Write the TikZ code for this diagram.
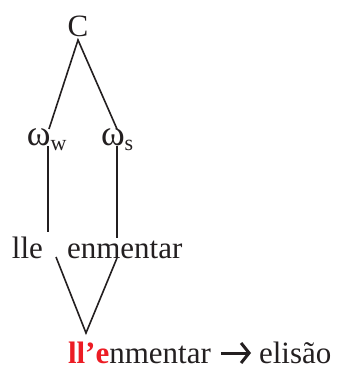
\documentclass[tikz,border=0pt]{standalone}
\usepackage{fontspec}
\setmainfont{Liberation Serif}
\usetikzlibrary{arrows.meta}
\definecolor{ink}{RGB}{35,31,32}
\definecolor{redtxt}{RGB}{236,28,36}
\begin{document}
\begin{tikzpicture}[x=1pt,y=-1pt,
  lbl/.style={inner sep=0pt,outer sep=0pt,text=ink,font=\fontsize{31}{37}\selectfont},
  edge/.style={draw=ink,line width=1.6pt},
  bigarrow/.style={draw=ink,line width=3pt,-{Straight Barb[length=8pt,width=20pt,line width=3pt]}}]
\useasboundingbox (0,0) rectangle (339,369);
\newcommand{\subtxt}[1]{\raisebox{-5pt}{\fontsize{22}{26}\selectfont #1}}
\newcommand{\omg}{{\fontsize{36}{40}\selectfont ω}}
% nodes
\node[lbl,anchor=base] (C) at (78,37) {C};
\node[lbl,anchor=base west] (ww) at (27,145) {\omg\subtxt{w}};
\node[lbl,anchor=base west] (ws) at (101,145) {\omg\subtxt{s}};
\node[lbl,anchor=base west] (lle) at (12,258) {lle};
\node[lbl,anchor=base west] (enm) at (67,258) {enmentar};
\node[lbl,anchor=base west] (res) at (68,363) {\textbf{\textcolor{redtxt}{ll’e}}nmentar};
\node[lbl,anchor=base west] (eli) at (259,363) {elisão};
% connector endpoints
\coordinate (apex) at (78,40);
\coordinate (wwTop) at (49,129);
\coordinate (wsTop) at (117,129);
\coordinate (wwA) at (48,146);
\coordinate (wwB) at (48,232);
\coordinate (wsA) at (117,146);
\coordinate (wsB) at (117,238);
\coordinate (lleB) at (56,257);
\coordinate (enmB) at (117,258);
\coordinate (join) at (86,333);
% connectors
\draw[edge] (wwTop) -- (apex) -- (wsTop);
\draw[edge] (wwA) -- (wwB);
\draw[edge] (wsA) -- (wsB);
\draw[edge] (lleB) -- (join) -- (enmB);
\draw[bigarrow] ([xshift=10pt,yshift=10pt]res.base east) -- ([xshift=-8pt,yshift=10pt]eli.base west);
\end{tikzpicture}
\end{document}
